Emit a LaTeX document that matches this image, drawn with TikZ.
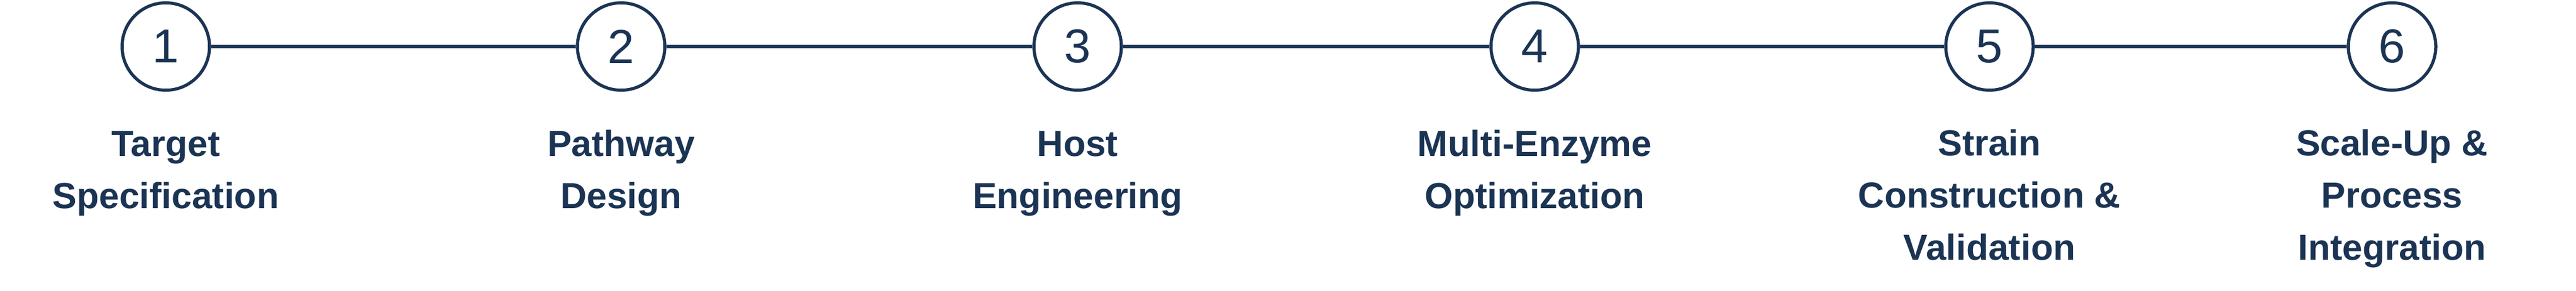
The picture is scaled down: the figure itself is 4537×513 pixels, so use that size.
\documentclass[tikz,border=0pt]{standalone}
\usepackage{fontspec}
\setmainfont{Liberation Sans}
\definecolor{navy}{RGB}{27,52,84}
\begin{document}
\begin{tikzpicture}[x=1pt,y=1pt,
  stepcircle/.style={circle, draw=navy, line width=5.5pt, minimum size=154pt, inner sep=0pt, text=navy, font=\fontsize{84}{90}\selectfont},
  steplabel/.style={anchor=base, align=center, text=navy, font=\fontsize{64}{92}\selectfont\bfseries, inner sep=0pt},
  link/.style={draw=navy, line width=6pt}]
\useasboundingbox (0,0) rectangle (4537,-513);
\node[stepcircle] (c1) at (292,-82) {1};
\node[stepcircle] (c2) at (1094,-82) {2};
\node[stepcircle] (c3) at (1898,-82) {3};
\node[stepcircle] (c4) at (2703,-82) {4};
\node[stepcircle] (c5) at (3504,-82) {5};
\node[stepcircle] (c6) at (4213,-82) {6};
\draw[link] (c1) -- (c2);
\draw[link] (c2) -- (c3);
\draw[link] (c3) -- (c4);
\draw[link] (c4) -- (c5);
\draw[link] (c5) -- (c6);
\node[steplabel] (l1) at (292,-367) {Target\\Specification};
\node[steplabel] (l2) at (1094,-367) {Pathway\\Design};
\node[steplabel] (l3) at (1898,-367) {Host\\Engineering};
\node[steplabel] (l4) at (2703,-367) {Multi-Enzyme\\Optimization};
\node[steplabel] (l5) at (3504,-458) {Strain\\Construction \&\\Validation};
\node[steplabel] (l6) at (4213,-458) {Scale-Up \&\\Process\\Integration};
\end{tikzpicture}
\end{document}
